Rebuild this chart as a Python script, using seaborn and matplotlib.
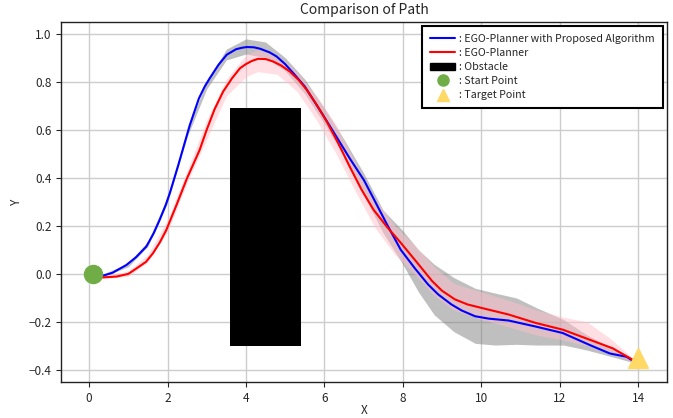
import matplotlib
matplotlib.use("Agg")
import matplotlib.pyplot as plt
import numpy as np
import seaborn as sns
from matplotlib.lines import Line2D
from matplotlib.patches import Patch, Rectangle

# mean path of the proposed planner
blue_x = [0.30, 0.60, 0.95, 1.20, 1.46, 1.65, 1.80, 1.95, 2.06, 2.27, 2.42, 2.57, 2.80, 2.95,
          3.08, 3.30, 3.51, 3.75, 3.90, 4.02, 4.20, 4.36, 4.60, 4.78, 5.00, 5.21, 5.50, 5.97,
          6.31, 6.65, 7.01, 7.25, 7.60, 7.95, 8.30, 8.64, 8.90, 9.24, 9.50, 9.84, 10.19,
          10.70, 11.39, 12.08, 12.77, 13.28, 13.71, 13.91]
blue_y = [-0.010, 0.005, 0.037, 0.070, 0.114, 0.170, 0.225, 0.285, 0.337, 0.450, 0.535, 0.620,
          0.730, 0.780, 0.815, 0.870, 0.912, 0.935, 0.941, 0.944, 0.943, 0.937, 0.922, 0.905,
          0.873, 0.835, 0.780, 0.660, 0.570, 0.480, 0.390, 0.315, 0.205, 0.100, 0.025, -0.043,
          -0.085, -0.127, -0.152, -0.176, -0.186, -0.194, -0.219, -0.246, -0.296, -0.331,
          -0.345, -0.366]

# mean path of the baseline planner
red_x = [0.30, 0.70, 1.00, 1.21, 1.45, 1.63, 1.80, 1.97, 2.23, 2.49, 2.82, 3.00, 3.20, 3.42,
         3.65, 3.85, 4.00, 4.15, 4.31, 4.50, 4.69, 4.90, 5.12, 5.35, 5.55, 5.80, 6.06, 6.35,
         6.65, 6.95, 7.25, 7.60, 7.93, 8.30, 8.75, 9.00, 9.33, 9.65, 10.02, 10.70, 11.39,
         12.08, 12.77, 13.36, 13.88]
red_y = [-0.015, -0.011, 0.000, 0.023, 0.050, 0.086, 0.130, 0.183, 0.287, 0.395, 0.516, 0.600,
         0.685, 0.759, 0.815, 0.856, 0.873, 0.886, 0.895, 0.894, 0.884, 0.867, 0.842, 0.806,
         0.766, 0.705, 0.634, 0.545, 0.445, 0.350, 0.268, 0.195, 0.133, 0.060, -0.030, -0.070,
         -0.106, -0.127, -0.142, -0.169, -0.204, -0.232, -0.274, -0.310, -0.359]

# spread of the proposed planner runs
grey_x = [0.30, 1.00, 1.50, 2.00, 2.50, 3.00, 3.50, 4.00, 4.50, 5.00, 5.50, 6.00, 6.50, 7.00,
          7.50, 8.00, 8.40, 8.80, 9.30, 9.85, 10.36, 10.90, 11.40, 12.10, 12.70, 13.50, 13.90]
grey_lo = [-0.015, 0.030, 0.115, 0.295, 0.570, 0.770, 0.890, 0.915, 0.900, 0.845, 0.750, 0.625,
           0.490, 0.330, 0.170, 0.040, -0.075, -0.170, -0.240, -0.289, -0.296, -0.293, -0.296,
           -0.296, -0.317, -0.352, -0.370]
grey_hi = [-0.005, 0.045, 0.135, 0.320, 0.600, 0.800, 0.935, 0.978, 0.965, 0.900, 0.810, 0.690,
           0.560, 0.420, 0.265, 0.180, 0.100, 0.040, -0.015, -0.060, -0.080, -0.100, -0.140,
           -0.190, -0.254, -0.323, -0.360]

# spread of the baseline planner runs
pink_x = [0.30, 1.00, 1.50, 2.00, 2.50, 3.00, 3.50, 4.00, 4.30, 4.80, 5.30, 5.80, 6.30, 6.80,
          7.30, 7.80, 8.30, 8.80, 9.30, 10.00, 10.70, 11.40, 12.10, 12.70, 13.30, 13.90]
pink_lo = [-0.020, -0.010, 0.050, 0.175, 0.380, 0.560, 0.740, 0.820, 0.842, 0.830, 0.760,
           0.640, 0.500, 0.340, 0.190, 0.080, 0.000, -0.090, -0.150, -0.190, -0.220, -0.254,
           -0.275, -0.300, -0.330, -0.365]
pink_hi = [-0.010, 0.012, 0.080, 0.225, 0.430, 0.640, 0.810, 0.910, 0.933, 0.910, 0.840, 0.740,
           0.620, 0.460, 0.310, 0.200, 0.120, 0.030, -0.040, -0.075, -0.110, -0.150, -0.180,
           -0.200, -0.270, -0.355]

obstacle_x = [3.6, 5.4]
obstacle_y = [-0.30, 0.69]
start_point = (0.1, 0.0)
target_point = (14.0, -0.35)

labels = [": EGO-Planner with Proposed Algorithm", ": EGO-Planner", ": Obstacle",
          ": Start Point", ": Target Point"]

sns.set_style("ticks")
plt.rcParams["font.family"] = ["Noto Sans CJK KR", "DejaVu Sans"]
plt.rcParams["axes.unicode_minus"] = True

fig, ax = plt.subplots(figsize=(6.73, 4.18), dpi=100)
fig.subplots_adjust(left=0.091, right=0.9906, bottom=0.0854, top=0.9467)

ax.grid(True, color="#cccccc", linewidth=1.0)
ax.set_axisbelow(True)

ax.fill_between(grey_x, grey_lo, grey_hi, color="gray", alpha=0.5, linewidth=0)
ax.fill_between(pink_x, pink_lo, pink_hi, color="pink", alpha=0.5, linewidth=0)

ax.add_patch(Rectangle((obstacle_x[0], obstacle_y[0]), obstacle_x[1] - obstacle_x[0],
                       obstacle_y[1] - obstacle_y[0], facecolor="black", edgecolor="none", zorder=3))

sns.lineplot(x=blue_x, y=blue_y, color="blue", linewidth=1.5, sort=False, ax=ax, zorder=4)
sns.lineplot(x=red_x, y=red_y, color="red", linewidth=1.5, sort=False, ax=ax, zorder=4)

ax.plot(*start_point, marker="o", markersize=13, color="#70ad47", linestyle="none", zorder=5)
ax.plot(*target_point, marker="^", markersize=15, color="#ffd966", linestyle="none", zorder=5)

ax.set_xlim(-0.71, 14.73)
ax.set_ylim(-0.451, 1.047)
ax.set_xticks(np.arange(0, 15, 2))
ax.set_yticks(np.arange(-0.4, 1.01, 0.2))
ax.tick_params(labelsize=8.5, length=3.5, width=0.8)
for spine in ax.spines.values():
    spine.set_color("#222222")
    spine.set_linewidth(1.0)

ax.set_title("Comparison of Path", fontsize=10)
ax.set_xlabel("X", fontsize=8.5, labelpad=-1)
ax.set_ylabel("Y", fontsize=8.5)

handles = [
    Line2D([], [], color="blue", linewidth=1.5),
    Line2D([], [], color="red", linewidth=1.5),
    Patch(facecolor="black", edgecolor="black"),
    Line2D([], [], marker="o", markersize=8, color="#70ad47", linestyle="none"),
    Line2D([], [], marker="^", markersize=8, color="#ffd966", linestyle="none"),
]
leg = ax.legend(handles, labels, loc="upper right", fontsize=7.7, fancybox=False,
                framealpha=1, edgecolor="black", borderaxespad=0.35, labelspacing=0.38,
                handlelength=2.3, handletextpad=0.4, borderpad=0.75)
leg.get_frame().set_linewidth(1.5)
leg.set_zorder(10)

fig.savefig("out.png", dpi=100)
